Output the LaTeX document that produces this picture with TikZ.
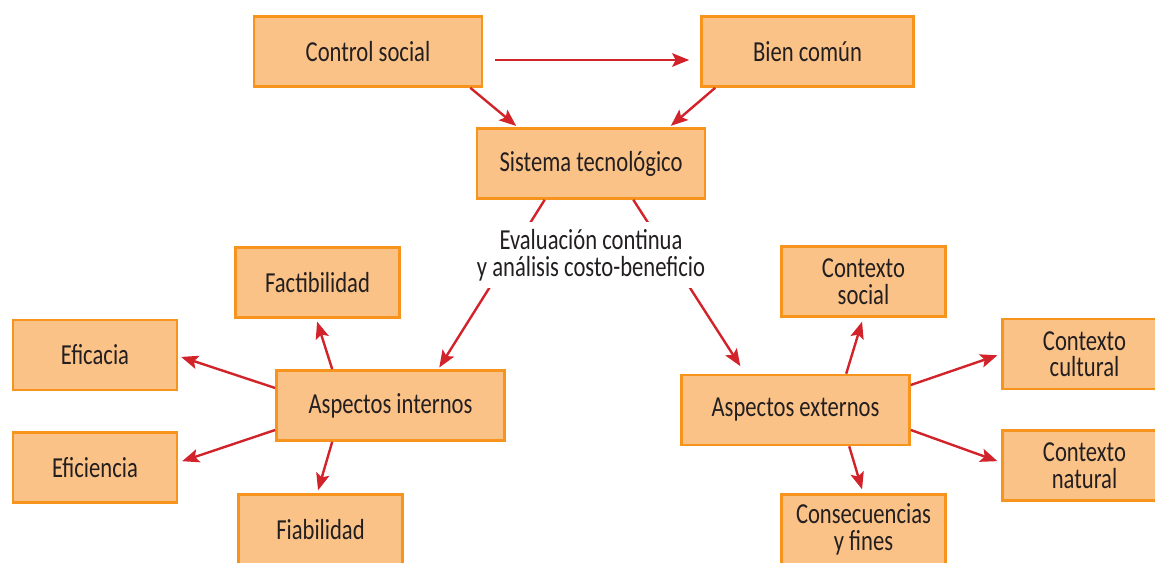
\documentclass[tikz,border=0pt]{standalone}
\usepackage{fontspec}
\setmainfont{Carlito}[FakeStretch=0.78]
\usetikzlibrary{arrows.meta}
\definecolor{relleno}{HTML}{FBC287}
\definecolor{borde}{HTML}{F7941E}
\definecolor{flecha}{HTML}{D2232A}
\definecolor{texto}{HTML}{231F20}
\begin{document}
\begin{tikzpicture}[x=1pt,y=1pt,
					caja/.style={draw=borde, fill=relleno, line width=2.6pt, minimum height=70pt, minimum width=164pt, align=center, text=texto, font=\fontsize{29}{26.5}\selectfont},
					ancha/.style={caja, minimum width=228pt},
					conector/.style={draw=flecha, line width=2.4pt, -{Stealth[length=17pt,width=13.5pt,inset=3.5pt]}}]
					\clip (0,0) rectangle (1155,562);
					
					\node[ancha] at (368,510.5) (control) {Control social};
					\node[ancha, minimum width=212pt] at (807.5,510.5) (bien) {Bien común};
					\node[ancha] at (591,398.5) (sistema) {Sistema tecnológico};
					
					\node[ancha] at (390.5,156.5) (internos) {Aspectos internos};
					\node[caja] at (317.5,279.5) (factib) {Factibilidad};
					\node[caja] at (95,207) (eficacia) {Eficacia};
					\node[caja] at (95,94.5) (eficiencia) {Eficiencia};
					\node[caja] at (320.5,32.5) (fiab) {Fiabilidad};
					
					\node[ancha] at (795.5,152) (externos) {Aspectos externos};
					\node[caja] at (863.5,280.5) (csocial) {Contexto\\social};
					\node[caja] at (1084.5,208) (ccultural) {Contexto\\cultural};
					\node[caja] at (1084.5,96.5) (cnatural) {Contexto\\natural};
					\node[caja] at (863.5,32.5) (consec) {Consecuencias\\y fines};
					
					% parte superior
					\draw[conector, shorten <=12pt, shorten >=11pt] ([yshift=-8.5pt]control.east) -- ([yshift=-8.5pt]bien.west);
					\draw[conector, shorten >=2pt] ([xshift=-13pt]control.south east) -- ([xshift=42pt]sistema.north west);
					\draw[conector, shorten >=2pt] ([xshift=15pt]bien.south west) -- ([xshift=-37pt]sistema.north east);
					\draw[conector, shorten >=2pt] ([xshift=69pt]sistema.south west) -- ([xshift=163pt]internos.north west);
					\draw[conector, shorten >=9pt] ([xshift=-73pt]sistema.south east) -- ([xshift=65pt]externos.north west);
					
					\node[fill=white, align=center, text=texto, inner xsep=2pt, inner ysep=7pt, font=\fontsize{29}{27}\selectfont] at (591,307) (eval) {Evaluación continua\\y análisis costo-beneficio};
					
					% aspectos internos
					\draw[conector, shorten >=3pt] ([xshift=57pt]internos.north west) -- ([xshift=82pt]factib.south west);
					\draw[conector, shorten >=3pt] ([yshift=17.5pt]internos.west) -- ([yshift=-1pt]eficacia.east);
					\draw[conector, shorten >=4pt] ([yshift=-24.5pt]internos.west) -- ([yshift=5pt]eficiencia.east);
					\draw[conector, shorten >=3pt] ([xshift=57pt]internos.south west) -- ([xshift=80pt]fiab.north west);
					
					% aspectos externos
					\draw[conector, shorten >=4pt] ([xshift=166pt]externos.north west) -- ([xshift=83pt]csocial.south west);
					\draw[conector, shorten >=4pt] ([yshift=25pt]externos.east) -- (ccultural.west);
					\draw[conector, shorten >=4pt] ([yshift=-20pt]externos.east) -- ([yshift=3pt]cnatural.west);
					\draw[conector, shorten >=4pt] ([xshift=169pt]externos.south west) -- ([xshift=83pt]consec.north west);
					
\end{tikzpicture}
\end{document}
